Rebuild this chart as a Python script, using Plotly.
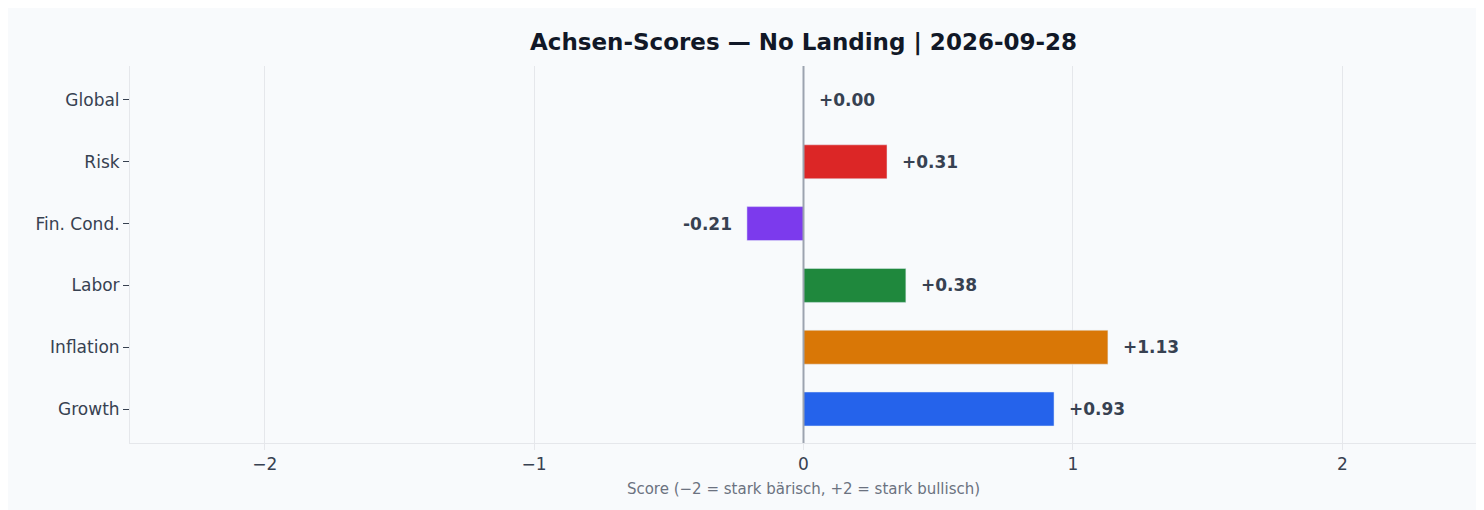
import plotly.graph_objects as go

categories = ["Growth", "Inflation", "Labor", "Fin. Cond.", "Risk", "Global"]
scores = [0.93, 1.13, 0.38, -0.21, 0.31, 0.00]
colors = ["#2563eb", "#d97706", "#1f883d", "#7c3aed", "#dc2626", "#6b7280"]
labels = [f"{v:+.2f}" if v != 0 else "+0.00" for v in scores]
labels = [l.replace("+-", "-") for l in labels]

fig = go.Figure(go.Bar(
    x=scores, y=categories, orientation="h", marker_color=colors,
    width=0.55, hoverinfo="skip"))

for c, v, l in zip(categories, scores, labels):
    fig.add_annotation(x=v, y=c, text=f"<b>{l}</b>", showarrow=False,
                       xanchor="right" if v < 0 else "left",
                       xshift=-13 if v < 0 else 13,
                       font=dict(size=17, color="#374151", family="DejaVu Sans"))

fig.add_shape(type="line", x0=0, x1=0, y0=0, y1=1, yref="paper",
              line=dict(color="#9ca3af", width=2))

fig.update_layout(
    width=1484, height=510,
    paper_bgcolor="#f8fafc", plot_bgcolor="#f8fafc",
    margin=dict(l=122, r=15, t=58, b=75),
    font=dict(family="DejaVu Sans", color="#374151", size=17),
    title=dict(text="<b>Achsen-Scores — No Landing | 2026-09-28</b>",
               x=0.5 + (122 - 15) / 2 / 1484 * 0, xref="paper", y=0.95,
               font=dict(size=23, color="#111827")),
    showlegend=False,
    xaxis=dict(range=[-2.5, 2.5], tickvals=[-2, -1, 0, 1, 2],
               ticktext=["−2", "−1", "0", "1", "2"],
               showgrid=True, gridcolor="#e5e7eb", zeroline=False,
               showline=True, linecolor="#e5e7eb", ticks="outside",
               tickcolor="#e5e7eb", ticklen=6,
               title=dict(text="Score (−2 = stark bärisch, +2 = stark bullisch)",
                          font=dict(size=15, color="#6b7280"), standoff=10)),
    yaxis=dict(showgrid=False, showline=True, linecolor="#e5e7eb",
               ticks="outside", tickcolor="#374151", ticklen=6,
               range=[-0.55, 5.55]),
)
fig.write_html("out.html")
